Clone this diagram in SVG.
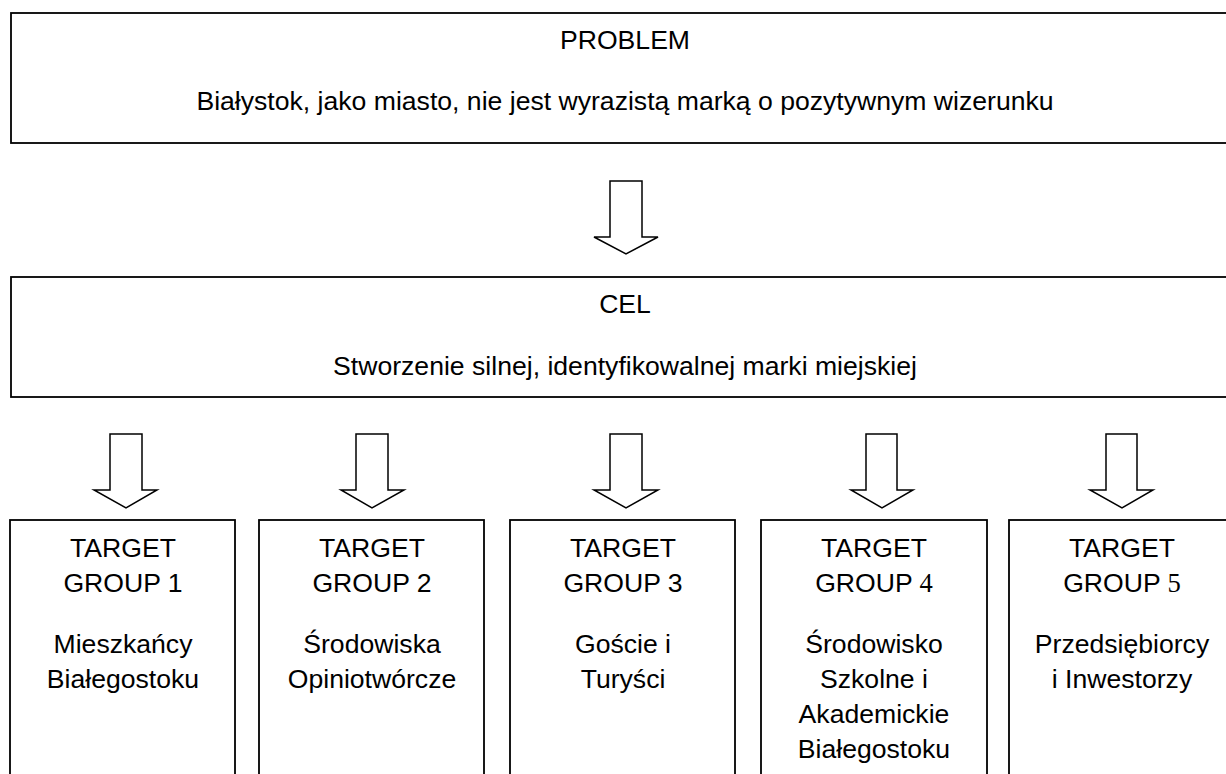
<svg xmlns="http://www.w3.org/2000/svg" width="1226" height="774" viewBox="0 0 1226 774">
<style>
.box{fill:#fff;stroke:#000;stroke-width:1.8}
.arr{fill:#fff;stroke:#000;stroke-width:1.5;stroke-linejoin:miter}
text{font-family:"Liberation Sans",Arial,sans-serif;font-size:26.6px;fill:#000;text-anchor:middle}
.sd{font-family:"Liberation Serif","Times New Roman",serif}
</style>
<rect width="1226" height="774" fill="#fff"/>
<g id="problem">
<rect class="box" x="11" y="13" width="1240" height="130"/>
<text x="625" y="49">PROBLEM</text>
<text x="625" y="110">Białystok, jako miasto, nie jest wyrazistą marką o pozytywnym wizerunku</text>
</g>
<g id="cel">
<rect class="box" x="11" y="277" width="1240" height="120"/>
<text x="625" y="313">CEL</text>
<text x="625" y="375">Stworzenie silnej, identyfikowalnej marki miejskiej</text>
</g>
<g id="connectors">
<path class="arr" d="M610,181 H642 V237 H658 L626,254 L594,237 H610 Z"/>
<path class="arr" d="M110,434 H142 V490 H157 L126,508 L94,490 H110 Z"/>
<path class="arr" d="M356,434 H388 V490 H404 L372,508 L341,490 H356 Z"/>
<path class="arr" d="M610,434 H642 V490 H658 L626,508 L594,490 H610 Z"/>
<path class="arr" d="M866,434 H897 V490 H913 L882,508 L851,490 H866 Z"/>
<path class="arr" d="M1106,434 H1137 V490 H1153 L1122,508 L1090,490 H1106 Z"/>
</g>
<g id="tg1">
<rect class="box" x="10" y="520" width="225" height="280"/>
<text x="123" y="557">TARGET</text>
<text x="123" y="592">GROUP 1</text>
<text x="123" y="653">Mieszkańcy</text>
<text x="123" y="688">Białegostoku</text>
</g>
<g id="tg2">
<rect class="box" x="259" y="520" width="225" height="280"/>
<text x="372" y="557">TARGET</text>
<text x="372" y="592">GROUP 2</text>
<text x="372" y="653">Środowiska</text>
<text x="372" y="688">Opiniotwórcze</text>
</g>
<g id="tg3">
<rect class="box" x="510" y="520" width="225" height="280"/>
<text x="623" y="557">TARGET</text>
<text x="623" y="592">GROUP 3</text>
<text x="623" y="653">Goście i</text>
<text x="623" y="688">Turyści</text>
</g>
<g id="tg4">
<rect class="box" x="761" y="520" width="226" height="280"/>
<text x="874" y="557">TARGET</text>
<text x="874" y="592">GROUP <tspan class="sd">4</tspan></text>
<text x="874" y="653">Środowisko</text>
<text x="874" y="688">Szkolne i</text>
<text x="874" y="723">Akademickie</text>
<text x="874" y="758">Białegostoku</text>
</g>
<g id="tg5">
<rect class="box" x="1009" y="520" width="226" height="280"/>
<text x="1122" y="557">TARGET</text>
<text x="1122" y="592">GROUP <tspan class="sd">5</tspan></text>
<text x="1122" y="653">Przedsiębiorcy</text>
<text x="1122" y="688">i Inwestorzy</text>
</g>
</svg>
